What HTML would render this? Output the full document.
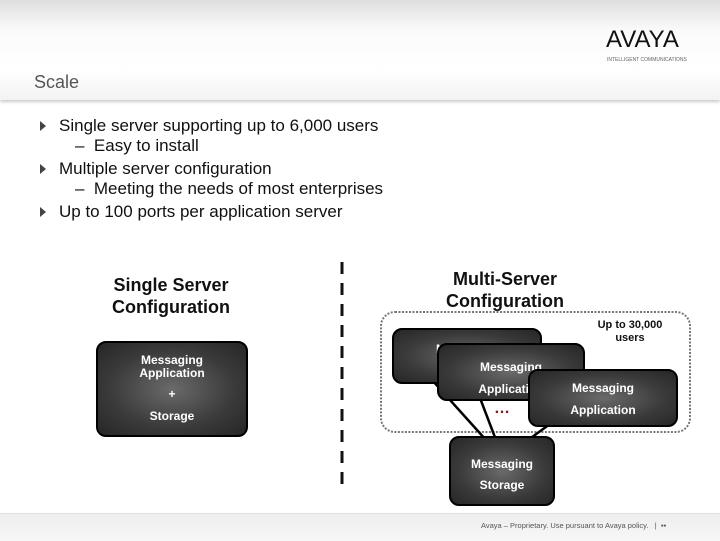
<!DOCTYPE html>
<html><head><meta charset="utf-8"><style>
body{margin:0;width:720px;height:540px;position:relative;overflow:hidden;background:#fff;font-family:"Liberation Sans",sans-serif;}
.a{position:absolute;white-space:nowrap}
.box{position:absolute;border:2px solid #000;border-radius:10px;background:radial-gradient(ellipse at center,#6a6a6a 0%,#3a3a3a 60%,#262626 100%);color:#fff;font-weight:bold;font-size:12px;text-align:center;box-sizing:border-box}
.b{font-size:17px;color:#111}
.tri{position:absolute;width:0;height:0;border-top:5px solid transparent;border-bottom:5px solid transparent;border-left:6px solid #444}
</style></head><body>
<div class="a" style="left:0;top:0;width:720px;height:100px;background:linear-gradient(#dedede,#fafafa 30%,#fff 70%,#f3f3f3);box-shadow:0 2px 3px #ccc"></div>
<div class="a" style="left:34px;top:72px;font-size:18px;color:#555">Scale</div>
<div class="a" style="left:606px;top:26px;font-size:24px;letter-spacing:0px;color:#111">AVAYA</div>
<div class="a" style="left:607px;top:57px;font-size:5px;color:#666">INTELLIGENT COMMUNICATIONS</div>

<div class="tri" style="left:40px;top:121px"></div>
<div class="a b" style="left:59px;top:116px">Single server supporting up to 6,000 users</div>
<div class="a b" style="left:75px;top:136px">–&nbsp; Easy to install</div>
<div class="tri" style="left:40px;top:164px"></div>
<div class="a b" style="left:59px;top:159px">Multiple server configuration</div>
<div class="a b" style="left:75px;top:179px">–&nbsp; Meeting the needs of most enterprises</div>
<div class="tri" style="left:40px;top:207px"></div>
<div class="a b" style="left:59px;top:202px">Up to 100 ports per application server</div>

<div class="a" style="left:96px;top:274px;width:150px;text-align:center;font-size:18px;font-weight:bold;line-height:22px;color:#111;white-space:normal">Single Server Configuration</div>
<div class="a" style="left:425px;top:268px;width:160px;text-align:center;font-size:18px;font-weight:bold;line-height:22px;color:#111;white-space:normal">Multi-Server Configuration</div>

<svg class="a" style="left:0;top:0" width="720" height="540">
<line x1="342" y1="262" x2="342" y2="486" stroke="#111" stroke-width="3" stroke-dasharray="12,9"/>
<rect x="381" y="312" width="309" height="120" rx="14" fill="none" stroke="#777" stroke-width="2" stroke-dasharray="2,1.5"/>
<line x1="432" y1="380" x2="486" y2="440" stroke="#000" stroke-width="2.5"/>
<line x1="480" y1="398" x2="496" y2="440" stroke="#000" stroke-width="2.5"/>
<line x1="550" y1="424" x2="528" y2="440" stroke="#000" stroke-width="2.5"/>
</svg>

<div class="box" style="left:96px;top:341px;width:152px;height:96px;padding-top:11px;line-height:13px">Messaging<br>Application<div style="margin-top:8px">+</div><div style="margin-top:9px">Storage</div></div>

<div class="box" style="left:392px;top:328px;width:150px;height:56px;padding-top:12px">Messaging</div>
<div class="box" style="left:437px;top:343px;width:148px;height:58px;padding-top:11px;line-height:22px">Messaging<br>Application</div>
<div class="box" style="left:528px;top:369px;width:150px;height:58px;padding-top:6px;line-height:22px">Messaging<br>Application</div>
<div class="a" style="left:494px;top:400px;color:#8b1a1a;font-weight:bold;font-size:16px">…</div>
<div class="box" style="left:449px;top:436px;width:106px;height:70px;padding-top:16px;line-height:21px">Messaging<br>Storage</div>
<div class="a" style="left:590px;top:319px;width:80px;text-align:center;font-size:11px;font-weight:bold;line-height:13px;color:#111">Up to 30,000<br>users</div>

<div class="a" style="left:0;top:513px;width:720px;height:27px;background:linear-gradient(#eee,#f7f7f7);border-top:1px solid #e0e0e0"></div>
<div class="a" style="left:481px;top:521px;font-size:7.5px;color:#555">Avaya – Proprietary. Use pursuant to Avaya policy.&nbsp;&nbsp;&nbsp;|&nbsp;&nbsp;▪▪</div>
</body></html>
